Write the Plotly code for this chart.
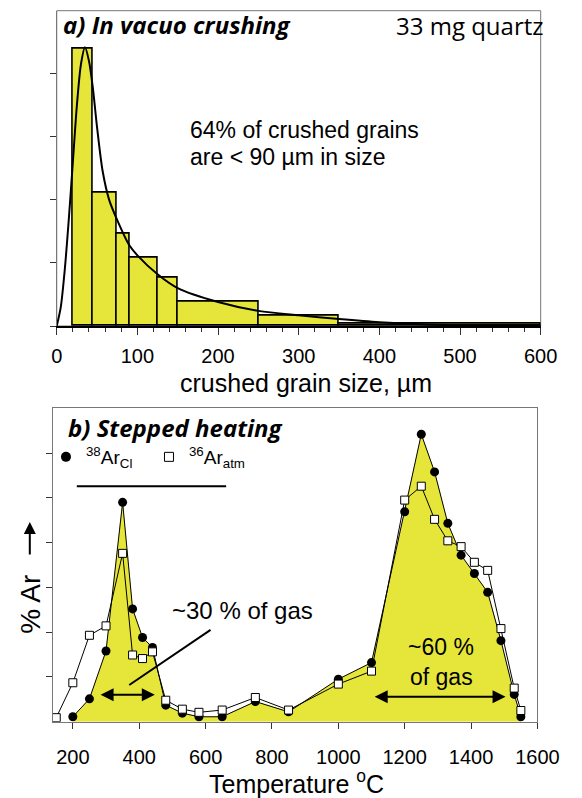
import plotly.graph_objects as go

# ---------------- Data: panel a (histogram of crushed grain sizes) ----------------
bin_left = [20, 45, 75, 90, 125, 150, 250, 350]
bin_right = [45, 75, 90, 125, 150, 250, 350, 600]
bin_height = [4.39, 2.11, 1.46, 1.09, 0.77, 0.39, 0.16, 0.03]

curve_x = [0, 5, 10, 15, 20, 25, 30, 35, 40, 45, 50, 57, 65, 75, 90, 100, 125, 150, 200, 250, 300, 350, 400, 460, 520, 600]
curve_y = [0.0, 0.3, 0.9, 1.7, 2.6, 3.5, 4.15, 4.42, 4.2, 3.75, 3.15, 2.45, 2.0, 1.68, 1.28, 1.12, 0.82, 0.6, 0.38, 0.24, 0.17, 0.11, 0.06, 0.025, 0.015, 0.01]

# ---------------- Data: panel b (stepped heating) ----------------
cl_temp = [200, 250, 300, 350, 380, 410, 440, 480, 530, 580, 650, 750, 850, 1000, 1100, 1200, 1250, 1290, 1330, 1370, 1410, 1450, 1490, 1530, 1550]
cl_val = [0.11, 0.51, 1.58, 4.90, 2.52, 1.88, 1.66, 0.37, 0.19, 0.11, 0.11, 0.45, 0.22, 0.95, 1.32, 4.69, 6.42, 5.58, 4.43, 3.72, 3.31, 2.89, 1.81, 0.61, 0.11]

atm_temp = [150, 200, 250, 300, 350, 380, 410, 440, 480, 530, 580, 650, 750, 850, 1000, 1100, 1200, 1250, 1290, 1330, 1370, 1410, 1450, 1490, 1530, 1550]
atm_val = [0.09, 0.87, 1.93, 2.14, 3.76, 1.49, 1.41, 1.56, 0.48, 0.28, 0.21, 0.26, 0.54, 0.26, 0.84, 1.13, 4.95, 5.26, 4.52, 4.04, 3.91, 3.56, 3.38, 2.08, 0.75, 0.25]

top_ticks = [0, 100, 200, 300, 400, 500, 600]
bottom_ticks = [200, 400, 600, 800, 1000, 1200, 1400, 1600]

YELLOW = "#E6E63A"
W, H = 582, 798
FONT = "Liberation Sans, Arial, sans-serif"
TITLE_FONT = "Open Sans, sans-serif"


def px(x):
    return x / W


def py(y):
    return 1 - y / H


fig = go.Figure()

# histogram bars
centers = [(a + b) / 2 for a, b in zip(bin_left, bin_right)]
widths = [b - a for a, b in zip(bin_left, bin_right)]
fig.add_trace(go.Bar(x=centers, y=bin_height, width=widths, marker=dict(color=YELLOW, line=dict(color="black", width=1.6)),
                     xaxis="x", yaxis="y", showlegend=False))
fig.add_trace(go.Scatter(x=curve_x, y=curve_y, mode="lines", line=dict(color="black", width=2, shape="spline", smoothing=0.8),
                         xaxis="x", yaxis="y", showlegend=False))

# stepped heating: fill under 38Ar_Cl
fig.add_trace(go.Scatter(x=cl_temp, y=cl_val, mode="lines", fill="tozeroy", fillcolor=YELLOW, line=dict(color=YELLOW, width=0.5),
                         xaxis="x2", yaxis="y2", showlegend=False, hoverinfo="skip"))
fig.add_trace(go.Scatter(x=cl_temp, y=cl_val, mode="lines+markers", line=dict(color="black", width=1),
                         marker=dict(symbol="circle", size=9, color="black"),
                         xaxis="x2", yaxis="y2", showlegend=False))
fig.add_trace(go.Scatter(x=atm_temp, y=atm_val, mode="lines+markers", line=dict(color="black", width=1),
                         marker=dict(symbol="square", size=8, color="white", line=dict(color="black", width=1)),
                         xaxis="x2", yaxis="y2", showlegend=False))
# legend entries
fig.add_trace(go.Scatter(x=[None], y=[None], mode="markers", marker=dict(symbol="circle", size=10, color="black"),
                         name="<sup>38</sup>Ar<sub>Cl</sub>", xaxis="x2", yaxis="y2"))
fig.add_trace(go.Scatter(x=[None], y=[None], mode="markers",
                         marker=dict(symbol="square", size=9, color="white", line=dict(color="black", width=1)),
                         name="<sup>36</sup>Ar<sub>atm</sub>", xaxis="x2", yaxis="y2"))

axis_common = dict(showgrid=False, zeroline=False, ticks="outside", tickcolor="#333", tickwidth=1)

fig.update_layout(
    width=W, height=H, margin=dict(l=0, r=0, t=0, b=0),
    paper_bgcolor="white", plot_bgcolor="white",
    bargap=0,
    font=dict(family=FONT, color="black"),
    xaxis=dict(domain=[px(53.3), px(561.7)], range=[0, 600], anchor="y", tickvals=top_ticks, ticklen=7,
               minor=dict(dtick=20, ticks="outside", ticklen=4, tickcolor="#333"),
               showline=True, linecolor="black", linewidth=2, tickfont=dict(size=20), ticklabelstandoff=4, **axis_common),
    yaxis=dict(domain=[py(326), py(10.7)], range=[0, 5], anchor="x", tickvals=[0, 1, 2, 3, 4], ticklen=6,
               showticklabels=False, showline=True, linecolor="#777", linewidth=1, **axis_common),
    xaxis2=dict(domain=[px(49.3), px(558.3)], range=[140, 1600], anchor="y2", tickvals=bottom_ticks, ticklen=6,
                showline=True, linecolor="#777", linewidth=1, mirror=True, tickfont=dict(size=20), ticklabelstandoff=11,
                **axis_common),
    yaxis2=dict(domain=[py(721.7), py(408.3)], range=[0, 7], anchor="x2", tickvals=[1, 2, 3, 4, 5, 6], ticklen=6,
                showticklabels=False, showline=True, linecolor="#777", linewidth=1, mirror=True, **axis_common),
    legend=dict(orientation="h", x=px(42), y=py(457), xanchor="left", yanchor="middle", font=dict(size=19),
                bgcolor="rgba(0,0,0,0)", itemsizing="trace", tracegroupgap=0, entrywidth=58, entrywidthmode="pixels"),
)

# frame for panel a (top & right thin grey lines)
fig.add_shape(type="rect", xref="x domain", yref="y domain", x0=0, x1=1, y0=0, y1=1, line=dict(color="#777", width=1), layer="below")

# legend underline
fig.add_shape(type="line", xref="x2", yref="y2", x0=212, x1=662, y0=5.26, y1=5.26, line=dict(color="black", width=2))
# line from text to arrow
fig.add_shape(type="line", xref="x2", yref="y2", x0=615, y0=2.05, x1=370, y1=0.82, line=dict(color="black", width=2))

ann = []
# panel a texts
ann.append(dict(text="<b><i>a) In vacuo crushing</i></b>", x=px(58), y=py(25), xref="paper", yref="paper", xanchor="left", yanchor="middle",
                showarrow=False, font=dict(family=TITLE_FONT, size=24)))
ann.append(dict(text="33 mg quartz", x=px(487), y=py(26), xref="paper", yref="paper", xanchor="center", yanchor="middle",
                showarrow=False, font=dict(family=TITLE_FONT, size=24)))
ann.append(dict(text="64% of crushed grains", x=px(191), y=py(130), xref="paper", yref="paper", xanchor="left", yanchor="middle",
                showarrow=False, font=dict(size=23)))
ann.append(dict(text="are < 90 µm in size", x=px(191), y=py(157), xref="paper", yref="paper", xanchor="left", yanchor="middle",
                showarrow=False, font=dict(size=23)))
ann.append(dict(text="crushed grain size, µm", x=px(315), y=py(383), xref="paper", yref="paper", xanchor="center", yanchor="middle",
                showarrow=False, font=dict(size=25)))
# panel b texts
ann.append(dict(text="<b><i>b) Stepped heating</i></b>", x=px(63), y=py(427), xref="paper", yref="paper", xanchor="left", yanchor="middle",
                showarrow=False, font=dict(family=TITLE_FONT, size=24)))
ann.append(dict(text="Temperature <sup>o</sup>C", x=px(305), y=py(782), xref="paper", yref="paper", xanchor="center", yanchor="middle",
                showarrow=False, font=dict(size=25)))
ann.append(dict(text="% Ar", x=px(25), y=py(604), xref="paper", yref="paper", xanchor="center", yanchor="middle", textangle=-90,
                showarrow=False, font=dict(size=28)))
# arrow next to "% Ar"
ann.append(dict(x=px(25), y=py(522), ax=0, ay=34, xref="paper", yref="paper", axref="pixel", ayref="pixel", text="",
                showarrow=True, arrowhead=2, arrowsize=1.2, arrowwidth=2, arrowcolor="black"))
ann.append(dict(text="~30 % of gas", x=px(248), y=py(610), xref="paper", yref="paper", xanchor="center", yanchor="middle",
                showarrow=False, font=dict(size=24)))
ann.append(dict(text="~60 %", x=px(457), y=py(647), xref="paper", yref="paper", xanchor="center", yanchor="middle",
                showarrow=False, font=dict(size=23)))
ann.append(dict(text="of gas", x=px(457), y=py(677), xref="paper", yref="paper", xanchor="center", yanchor="middle",
                showarrow=False, font=dict(size=23)))
# double arrows
for (xa, xb, yv) in [(279, 447, 0.6), (1105, 1504, 0.56)]:
    ann.append(dict(x=xb, y=yv, ax=xa, ay=yv, xref="x2", yref="y2", axref="x2", ayref="y2", text="", showarrow=True,
                    arrowhead=2, arrowside="end+start", arrowsize=1.3, arrowwidth=2, arrowcolor="black"))

fig.update_layout(annotations=ann)

fig.write_html("out.html")
